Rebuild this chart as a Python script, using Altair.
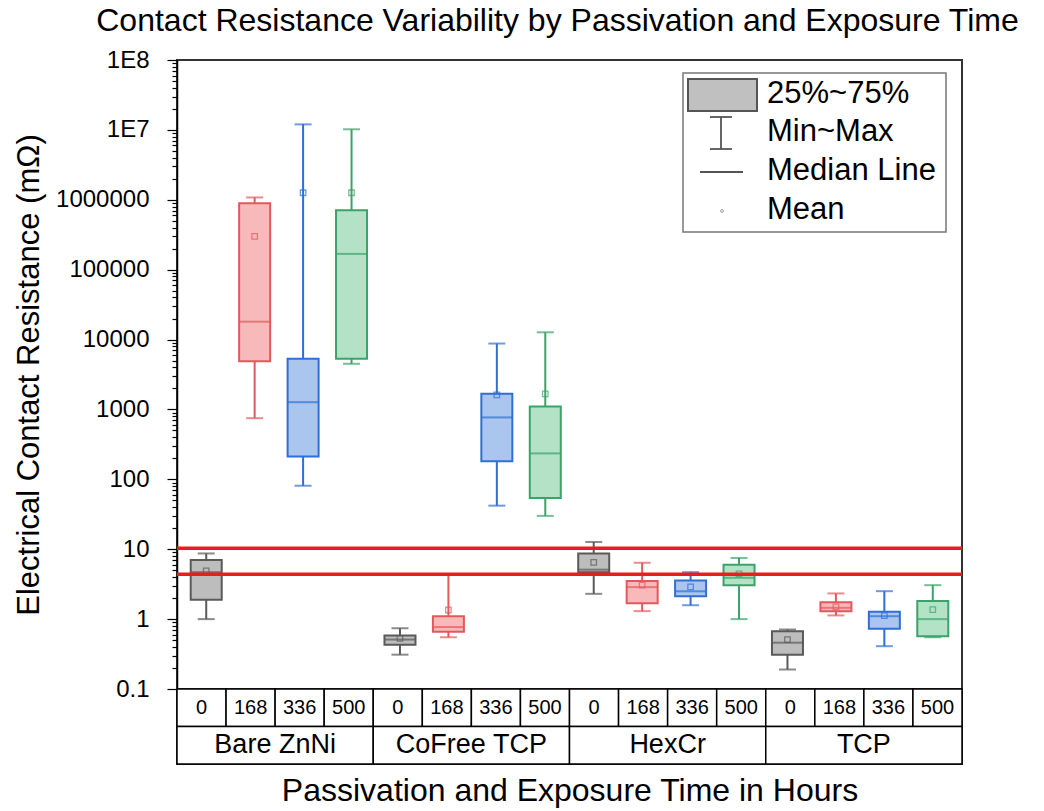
import altair as alt
import pandas as pd

# ---------------- data ----------------
groups = ["Bare ZnNi", "CoFree TCP", "HexCr", "TCP"]
times = ["0", "168", "336", "500"]

# 16 boxes, ordered group by group, time by time
mins    = [1.0, 750, 81, 4500,        0.31, 0.55, 42, 30,      2.3, 1.3, 1.58, 1.0,    0.19, 1.13, 0.41, 0.55]
q1s     = [1.9, 4900, 213, 5300,      0.43, 0.66, 181, 54,     4.7, 1.69, 2.13, 3.06,  0.31, 1.3, 0.73, 0.57]
medians = [4.7, 18000, 1270, 168000,  0.51, 0.77, 769, 235,    5.1, 2.87, 2.5, 3.9,    0.46, 1.45, 1.1, 1.0]
q3s     = [7.0, 890000, 5300, 710000, 0.585, 1.1, 1675, 1100,  8.7, 3.5, 3.57, 6.0,    0.67, 1.75, 1.27, 1.81]
maxs    = [8.7, 1080000, 12000000, 10200000, 0.74, 4.3, 8770, 12700, 12.7, 6.4, 4.7, 7.5, 0.71, 2.33, 2.51, 3.06]
means   = [4.9, 300000, 1260000, 1260000, 0.53, 1.35, 1620, 1675, 6.5, 3.06, 2.9, 4.45, 0.51, 1.5, 1.12, 1.37]

limits = [10.3, 4.4]

legend_labels = ["25%~75%", "Min~Max", "Median Line", "Mean"]

stroke_colors = ["#5a5a5a", "#e4585c", "#2f6fd6", "#39a468"]
fill_colors = ["#bdbdbd", "#f7b9ba", "#aac6ef", "#b4e2c6"]

FONT = "Liberation Sans"
W, H = 785, 629

rows = []
for gi, g in enumerate(groups):
    for ti, t in enumerate(times):
        k = gi * 4 + ti
        rows.append(dict(group=g, time=t, slot=k, lo=mins[k], q1=q1s[k], med=medians[k],
                         q3=q3s[k], hi=maxs[k], mean=means[k]))
df = pd.DataFrame(rows)
gdf = pd.DataFrame({"group": groups, "gstart": [i * 4 for i in range(len(groups))]})

xscale = alt.Scale(domain=[-0.5, 15.5], nice=False, zero=False)
yscale = alt.Scale(type="log", domain=[0.1, 1e8], nice=False)
stroke_scale = alt.Scale(domain=times, range=stroke_colors)
fill_scale = alt.Scale(domain=times, range=fill_colors)

tick_values = []
for d in range(-1, 8):
    for m in range(1, 10):
        v = m * 10.0 ** d
        if v <= 1e8 * 1.0001:
            tick_values.append(float(f"{v:.6g}"))
tick_values.append(1e8)
tick_values = sorted(set(tick_values))

major = "abs(log(datum.value)/LN10 - round(log(datum.value)/LN10)) < 0.001"
label_expr = (f"{major} ? (datum.value < 1 ? '0.1' : (datum.value >= 10000000 ? "
              f"'1E' + round(log(datum.value)/LN10) : format(datum.value, 'd'))) : ''")

yaxis = alt.Axis(
    values=tick_values, labelExpr=label_expr, labelOverlap=False, grid=False,
    title="Electrical Contact Resistance (mΩ)", titleFont=FONT, titleFontSize=31,
    titleFontWeight="normal", titleColor="black", titlePadding=10,
    labelFont=FONT, labelFontSize=24, labelColor="black", labelPadding=18,
    tickColor="black", tickWidth=1.2,
    tickSize={"condition": {"test": major, "value": 10}, "value": 5},
    domainColor="black", domainWidth=1.5,
)

base = alt.Chart(df).encode(x=alt.X("slot:Q", scale=xscale, axis=None))

whisk = base.mark_rule(strokeWidth=2).encode(
    y=alt.Y("lo:Q", scale=yscale, axis=yaxis), y2="hi:Q",
    stroke=alt.Stroke("time:N", scale=stroke_scale, legend=None))
box = base.mark_bar(size=31, strokeWidth=2).encode(
    y=alt.Y("q1:Q", scale=yscale), y2="q3:Q",
    fill=alt.Fill("time:N", scale=fill_scale, legend=None),
    stroke=alt.Stroke("time:N", scale=stroke_scale, legend=None))
med = base.mark_tick(orient="horizontal", size=31, thickness=2).encode(
    y=alt.Y("med:Q", scale=yscale), color=alt.Color("time:N", scale=stroke_scale, legend=None))
cap_hi = base.mark_tick(orient="horizontal", size=17, thickness=2).encode(
    y=alt.Y("hi:Q", scale=yscale), color=alt.Color("time:N", scale=stroke_scale, legend=None))
cap_lo = base.mark_tick(orient="horizontal", size=17, thickness=2).encode(
    y=alt.Y("lo:Q", scale=yscale), color=alt.Color("time:N", scale=stroke_scale, legend=None))
mean_pt = base.mark_point(shape="square", filled=False, size=30, strokeWidth=1.3).encode(
    y=alt.Y("mean:Q", scale=yscale), color=alt.Color("time:N", scale=stroke_scale, legend=None))

lim = alt.Chart(pd.DataFrame({"limit": limits})).mark_rule(color="#f01a1a", strokeWidth=3.5).encode(
    y=alt.Y("limit:Q", scale=yscale))

# ---------------- in-plot legend ----------------
one = alt.Chart(pd.DataFrame({"v": [0]}))
leg_box = one.mark_rect(fill="white", stroke="#777777", strokeWidth=1.5).encode(
    x=alt.value(506), x2=alt.value(769), y=alt.value(13), y2=alt.value(172))
leg_swatch = one.mark_rect(fill="#c0c0c0", stroke="#555555", strokeWidth=2).encode(
    x=alt.value(511), x2=alt.value(580), y=alt.value(19), y2=alt.value(51))
leg_whisk = one.mark_rule(color="#555555", strokeWidth=1.8).encode(
    x=alt.value(544), y=alt.value(57), y2=alt.value(89))
leg_cap1 = one.mark_rule(color="#555555", strokeWidth=1.8).encode(
    x=alt.value(533), x2=alt.value(555), y=alt.value(57))
leg_cap2 = one.mark_rule(color="#555555", strokeWidth=1.8).encode(
    x=alt.value(533), x2=alt.value(555), y=alt.value(89))
leg_med = one.mark_rule(color="#555555", strokeWidth=1.8).encode(
    x=alt.value(523), x2=alt.value(566), y=alt.value(112))
leg_mean = one.mark_point(shape="circle", filled=False, size=8, color="#777777", strokeWidth=1).encode(
    x=alt.value(545), y=alt.value(151))
leg_texts = [
    one.mark_text(align="left", baseline="middle", font=FONT, fontSize=31, color="black").encode(
        x=alt.value(590), y=alt.value(yy), text=alt.value(lbl))
    for lbl, yy in zip(legend_labels, [34, 72, 111, 150])
]

top = alt.layer(
    whisk, box, med, cap_hi, cap_lo, mean_pt, lim,
    leg_box, leg_swatch, leg_whisk, leg_cap1, leg_cap2, leg_med, leg_mean, *leg_texts,
).properties(
    width=W, height=H,
    title=alt.TitleParams(
        "Contact Resistance Variability by Passivation and Exposure Time",
        font=FONT, fontSize=32, fontWeight="normal", color="black",
        anchor="middle", frame="group", dx=-12, offset=10),
)

# ---------------- category table below the plot ----------------
row_scale = alt.Scale(domain=["time", "group"], paddingInner=0, paddingOuter=0)
xaxis_bottom = alt.Axis(title="Passivation and Exposure Time in Hours", labels=False, ticks=False,
                        domain=False, grid=False, titleFont=FONT, titleFontSize=32,
                        titleFontWeight="normal", titleColor="black", titlePadding=11)

time_cells = alt.Chart(df).transform_calculate(
    x0="datum.slot - 0.5", x1="datum.slot + 0.5", row="'time'"
).mark_rect(fill="white", stroke="black", strokeWidth=1.5).encode(
    x=alt.X("x0:Q", scale=xscale, axis=xaxis_bottom), x2="x1:Q",
    y=alt.Y("row:N", scale=row_scale, axis=None))
time_text = alt.Chart(df).transform_calculate(row="'time'").mark_text(
    font=FONT, fontSize=20, color="black").encode(
    x=alt.X("slot:Q", scale=xscale), y=alt.Y("row:N", scale=row_scale), text="time:N")
group_cells = alt.Chart(gdf).transform_calculate(
    x0="datum.gstart - 0.5", x1="datum.gstart + 3.5", row="'group'"
).mark_rect(fill="white", stroke="black", strokeWidth=1.5).encode(
    x=alt.X("x0:Q", scale=xscale), x2="x1:Q",
    y=alt.Y("row:N", scale=row_scale))
group_text = alt.Chart(gdf).transform_calculate(xc="datum.gstart + 1.5", row="'group'").mark_text(
    font=FONT, fontSize=27, color="black").encode(
    x=alt.X("xc:Q", scale=xscale), y=alt.Y("row:N", scale=row_scale), text="group:N")

bottom = alt.layer(time_cells, group_cells, time_text, group_text).properties(width=W, height=75)

chart = alt.vconcat(top, bottom, spacing=0, bounds="flush").properties(
    padding={"left": 12, "top": 4, "right": 10, "bottom": 4},
    background="white",
).configure_view(stroke="#333333", strokeWidth=2)

chart.save("out.html", embed_options={"renderer": "svg", "actions": False})
